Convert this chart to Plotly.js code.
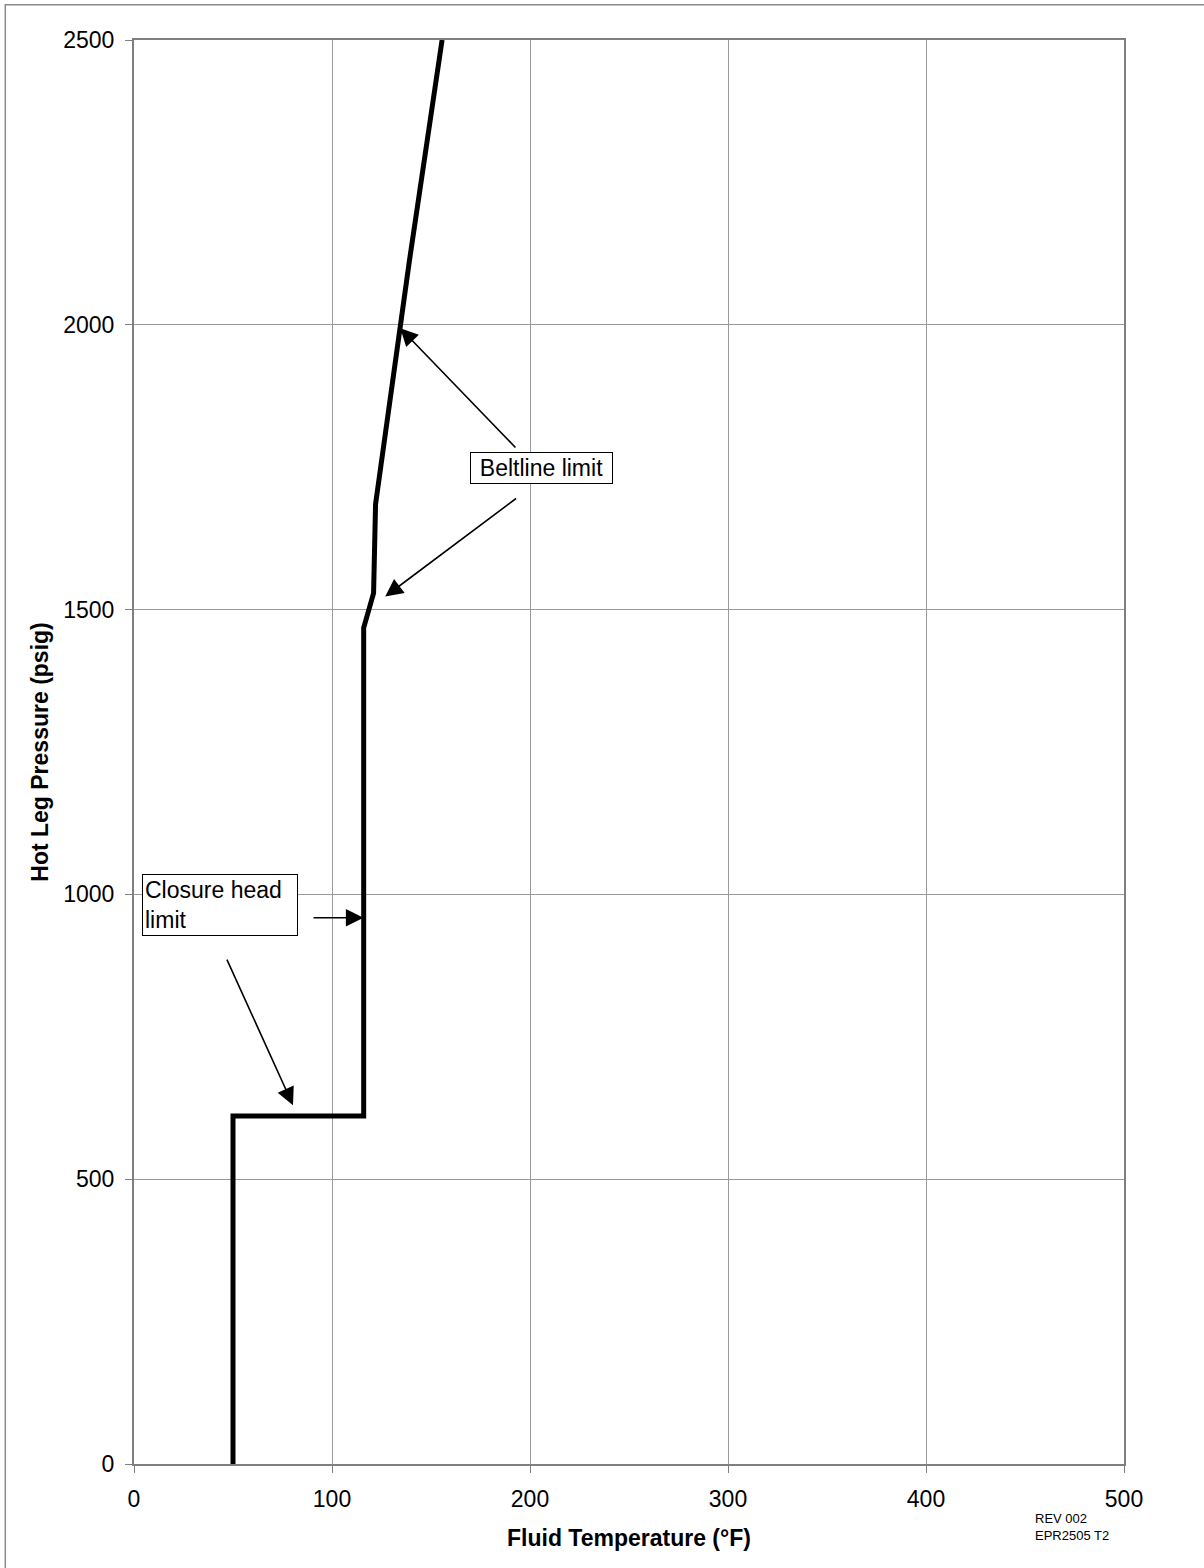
<!DOCTYPE html>
<html>
<head>
<meta charset="utf-8">
<script src="https://cdn.plot.ly/plotly-3.0.1.min.js"></script>
<style>
html,body{margin:0;padding:0;background:#fff;overflow:hidden;}
#chart{width:1204px;height:1568px;}
</style>
</head>
<body>
<div id="chart"></div>
<script>
// Limit curve (Fluid temperature °F vs Hot leg pressure psig)
const temperature = [50, 50, 116, 116, 121, 122, 139, 155.6];
const pressure    = [0, 611, 611, 1468, 1529, 1685, 2110, 2500];

const xTicks = [0, 100, 200, 300, 400, 500];
const yTicks = [0, 500, 1000, 1500, 2000, 2500];

// Annotation labels
const labelTexts = ["Beltline limit", "Closure head<br>limit"];
const labelX = [205.9, 4.0];
const labelY = [1748, 981.6];

// Arrows: head (x,y) and tail (ax,ay) in data units
const arrowHeadX = [134.5, 126.9, 115.9, 80.3];
const arrowHeadY = [1994, 1523, 959, 630];
const arrowTailX = [193.4, 193.7, 89.9, 46.6];
const arrowTailY = [1782, 1697, 959, 888];

const FONT = "Liberation Sans, Arial, sans-serif";

const trace = {
  x: temperature,
  y: pressure,
  type: "scatter",
  mode: "lines",
  line: {color: "#000000", width: 5},
  hoverinfo: "x+y"
};

const annotations = [];
annotations.push({
  x: labelX[0], y: labelY[0], xref: "x", yref: "y",
  text: labelTexts[0], showarrow: false,
  font: {family: FONT, size: 23, color: "#000"},
  bgcolor: "#ffffff", bordercolor: "#000000", borderwidth: 1, borderpad: 2,
  width: 137, align: "center", xanchor: "center", yanchor: "middle"
});
annotations.push({
  x: labelX[1], y: labelY[1], xref: "x", yref: "y",
  text: labelTexts[1], showarrow: false,
  font: {family: FONT, size: 23, color: "#000"},
  bgcolor: "#ffffff", bordercolor: "#000000", borderwidth: 1, borderpad: 2,
  width: 150, align: "left", xanchor: "left", yanchor: "middle"
});
for (let i = 0; i < arrowHeadX.length; i++) {
  annotations.push({
    x: arrowHeadX[i], y: arrowHeadY[i], xref: "x", yref: "y",
    ax: arrowTailX[i], ay: arrowTailY[i], axref: "x", ayref: "y",
    text: "", showarrow: true,
    arrowhead: 2, arrowsize: 2.2, arrowwidth: 1.6, arrowcolor: "#000000",
    standoff: 0, startstandoff: 0
  });
}
annotations.push({
  x: (1033 - 134) / (1204 - 134 - 80), y: (1464 - 1527) / (1568 - 40 - 104),
  xref: "paper", yref: "paper",
  text: "REV 002<br>EPR2505 T2", showarrow: false,
  font: {family: FONT, size: 13, color: "#000"},
  align: "left", xanchor: "left", yanchor: "middle"
});

const layout = {
  width: 1204, height: 1568,
  margin: {l: 134, r: 80, t: 40, b: 104, pad: 0},
  paper_bgcolor: "#ffffff", plot_bgcolor: "#ffffff",
  showlegend: false,
  font: {family: FONT, size: 23, color: "#000"},
  xaxis: {
    range: [0, 500], tickvals: xTicks, ticktext: xTicks.map(String),
    showgrid: true, gridcolor: "#9a9a9a", gridwidth: 1,
    showline: true, linecolor: "#7f7f7f", linewidth: 2, mirror: true,
    ticks: "outside", ticklen: 7, tickcolor: "#7f7f7f", tickwidth: 1,
    ticklabelstandoff: 6,
    zeroline: false, fixedrange: true,
    tickfont: {family: FONT, size: 23, color: "#000"},
    title: {text: "<b>Fluid Temperature (°F)</b>", font: {family: FONT, size: 23, color: "#000"}, standoff: 19}
  },
  yaxis: {
    range: [0, 2500], tickvals: yTicks, ticktext: yTicks.map(String),
    showgrid: true, gridcolor: "#9a9a9a", gridwidth: 1,
    showline: true, linecolor: "#7f7f7f", linewidth: 2, mirror: true,
    ticks: "outside", ticklen: 7, tickcolor: "#7f7f7f", tickwidth: 1,
    ticklabelstandoff: 6,
    zeroline: false, fixedrange: true,
    tickfont: {family: FONT, size: 23, color: "#000"},
    title: {text: "<b>Hot Leg Pressure (psig)</b>", font: {family: FONT, size: 23, color: "#000"}, standoff: 8}
  },
  annotations: annotations,
  shapes: [{
    type: "rect", xref: "paper", yref: "paper",
    x0: -0.13, x1: 1.3, y0: -0.2, y1: 1.0248,
    line: {color: "#8a8a8a", width: 1.5}, fillcolor: "rgba(0,0,0,0)", layer: "below"
  }]
};

Plotly.newPlot("chart", [trace], layout, {displayModeBar: false, staticPlot: true});
</script>
</body>
</html>
